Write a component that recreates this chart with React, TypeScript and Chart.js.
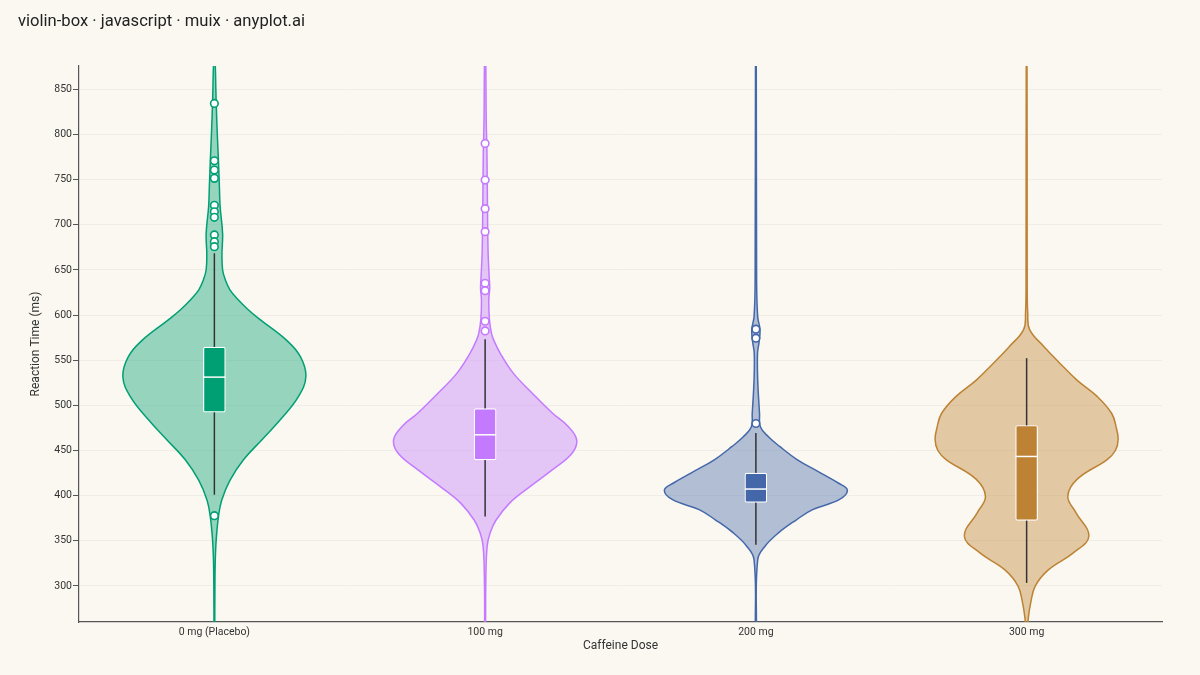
import React, { useEffect, useRef } from "react";
import { Chart, registerables } from "chart.js";

Chart.register(...registerables);

const categories = ["0 mg (Placebo)", "100 mg", "200 mg", "300 mg"];
const colors = ["#009E73", "#C47AFF", "#4467A9", "#BD8233"];

// box plot statistics (ms)
const q1 = [492.5, 439.7, 392.5, 372.6];
const median = [531.3, 467.4, 407.3, 443.4];
const q3 = [564.5, 496.5, 425.0, 477.7];
const whiskerLow = [401.0, 377.0, 345.7, 303.3];
const whiskerHigh = [668.5, 573.3, 469.3, 552.3];

const outliers0 = [834.5, 771.0, 760.7, 751.5, 721.6, 714.5, 708.3, 688.8, 681.4, 675.8, 377.8];
const outliers1 = [790.2, 749.6, 717.9, 692.4, 635.3, 627.1, 593.2, 582.5];
const outliers2 = [584.4, 574.4, 479.9];
const outliers3: number[] = [];

// violin outlines: reaction time levels and relative density (1 = widest)
const levels0 = [250, 300, 329, 351, 377, 395, 417, 440, 462, 484, 510, 532, 554, 572, 595, 606, 617, 628, 639, 650, 668, 690, 720, 742, 772, 798, 835, 890];
const density0 = [0.004, 0.006, 0.01, 0.02, 0.045, 0.08, 0.17, 0.32, 0.52, 0.72, 0.92, 1.0, 0.94, 0.79, 0.5, 0.37, 0.26, 0.17, 0.12, 0.09, 0.083, 0.09, 0.063, 0.055, 0.044, 0.033, 0.02, 0.005];

const levels1 = [250, 307, 344, 359, 373, 392, 410, 429, 447, 462, 477, 491, 514, 536, 558, 572, 580, 595, 617, 630, 643, 668, 705, 779, 816, 890];
const density1 = [0.005, 0.008, 0.022, 0.055, 0.12, 0.27, 0.49, 0.74, 0.95, 1.0, 0.905, 0.74, 0.51, 0.305, 0.164, 0.095, 0.069, 0.047, 0.04, 0.05, 0.044, 0.033, 0.027, 0.02, 0.012, 0.005];

const levels2 = [250, 329, 344, 359, 373, 384.5, 395.5, 406, 414, 425, 440, 454.5, 465, 476, 491, 528, 558, 570, 584, 598, 639, 890];
const density2 = [0.005, 0.02, 0.1, 0.25, 0.44, 0.62, 0.91, 1.0, 0.9, 0.71, 0.45, 0.26, 0.14, 0.05, 0.04, 0.02, 0.018, 0.035, 0.045, 0.02, 0.008, 0.004];

const levels3 = [250, 266, 281, 300, 318, 336.5, 355, 381, 399, 418, 440, 450, 462, 475, 491, 510, 528, 547, 565, 584, 602, 639, 890];
const density3 = [0.008, 0.02, 0.044, 0.095, 0.24, 0.51, 0.68, 0.54, 0.45, 0.55, 0.88, 0.97, 1.0, 0.98, 0.93, 0.77, 0.55, 0.36, 0.19, 0.033, 0.012, 0.006, 0.004];

const violinLevels = [levels0, levels1, levels2, levels3];
const violinDensity = [density0, density1, density2, density3];
const outliers = [outliers0, outliers1, outliers2, outliers3];

const HALF_WIDTH = 0.338; // widest half of a violin, in category units
const FONT = "Roboto, 'Liberation Sans', Arial, sans-serif";

function violinShape(i: number) {
    const lv = violinLevels[i];
    const d = violinDensity[i];
    const right = lv.map((y, k) => ({ x: i + d[k] * HALF_WIDTH, y }));
    const left = lv.map((y, k) => ({ x: i - d[k] * HALF_WIDTH, y })).reverse();
    return [...right, ...left];
}

export default function App() {
    const chartRef = useRef<HTMLCanvasElement>(null);

    useEffect(() => {
        if (!chartRef.current) return;

        const datasets: any[] = [];
        categories.forEach((_, i) => {
            datasets.push({
                type: "line",
                data: violinShape(i),
                borderColor: colors[i],
                backgroundColor: colors[i] + "66",
                borderWidth: 1.5,
                fill: "shape",
                tension: 0.4,
                pointRadius: 0,
                order: 5,
            });
            datasets.push({
                type: "line",
                data: [
                    { x: i, y: whiskerLow[i] },
                    { x: i, y: whiskerHigh[i] },
                ],
                borderColor: "#333333",
                borderWidth: 1.5,
                pointRadius: 0,
                fill: false,
                order: 4,
            });
            datasets.push({
                type: "bar",
                data: [{ x: i, y: [q1[i], q3[i]] }],
                backgroundColor: colors[i],
                borderColor: "#ffffff",
                borderWidth: 1.2,
                borderRadius: 2,
                borderSkipped: false,
                barThickness: 22,
                grouped: false,
                order: 3,
            });
            datasets.push({
                type: "line",
                data: [{ x: i, y: median[i] }],
                showLine: false,
                pointStyle: "line",
                pointRadius: 11,
                pointBorderColor: "#ffffff",
                pointBorderWidth: 1.5,
                order: 2,
            });
            datasets.push({
                type: "line",
                data: outliers[i].map((y) => ({ x: i, y })),
                showLine: false,
                pointRadius: 3.8,
                pointBackgroundColor: "#ffffff",
                pointBorderColor: colors[i],
                pointBorderWidth: 1.6,
                order: 1,
            });
        });

        const config: any = {
            type: "line",
            data: { datasets },
            options: {
                animation: false,
                responsive: true,
                maintainAspectRatio: false,
                events: [],
                layout: { padding: { left: 25, right: 38, top: 66, bottom: 18 } },
                plugins: {
                    legend: { display: false },
                    tooltip: { enabled: false },
                },
                scales: {
                    x: {
                        type: "linear",
                        min: -0.5,
                        max: 3.5,
                        offset: false,
                        afterBuildTicks: (axis: any) => {
                            axis.ticks = categories.map((_, i) => ({ value: i }));
                        },
                        afterFit: (axis: any) => {
                            axis.height = 35;
                        },
                        grid: { display: false, drawTicks: false, offset: false },
                        border: { display: true, color: "#555555", width: 1.2 },
                        ticks: {
                            callback: (v: number) => categories[Math.round(v)],
                            padding: 4,
                            autoSkip: false,
                            maxRotation: 0,
                            color: "#333333",
                            font: { family: FONT, size: 10.5 },
                        },
                        title: {
                            display: true,
                            text: "Caffeine Dose",
                            color: "#333333",
                            font: { family: FONT, size: 12 },
                            padding: { top: 0, bottom: 4 },
                        },
                    },
                    y: {
                        type: "linear",
                        min: 260,
                        max: 876,
                        afterFit: (axis: any) => {
                            axis.width = 54;
                        },
                        grid: {
                            color: "rgba(0,0,0,0.045)",
                            tickColor: "#555555",
                            tickLength: 6,
                        },
                        border: { color: "#555555", width: 1.2 },
                        ticks: {
                            stepSize: 50,
                            includeBounds: false,
                            padding: 1,
                            color: "#333333",
                            font: { family: FONT, size: 10.5 },
                        },
                        title: {
                            display: true,
                            text: "Reaction Time (ms)",
                            color: "#333333",
                            font: { family: FONT, size: 12 },
                            padding: { top: 4, bottom: 0 },
                        },
                    },
                },
            },
        };

        const chart = new Chart(chartRef.current, config);
        return () => {
            chart.destroy();
        };
    }, []);

    return (
        <div style={{ position: "fixed", left: 0, top: 0, width: 1200, height: 675, background: "#FAF8F1" }}>
            <div
                style={{
                    position: "absolute",
                    left: 18,
                    top: 11,
                    fontFamily: FONT,
                    fontSize: 16.6,
                    lineHeight: "20px",
                    color: "#222222",
                    whiteSpace: "nowrap",
                }}
            >
                violin-box · javascript · muix · anyplot.ai
            </div>
            <canvas ref={chartRef}></canvas>
        </div>
    );
}
